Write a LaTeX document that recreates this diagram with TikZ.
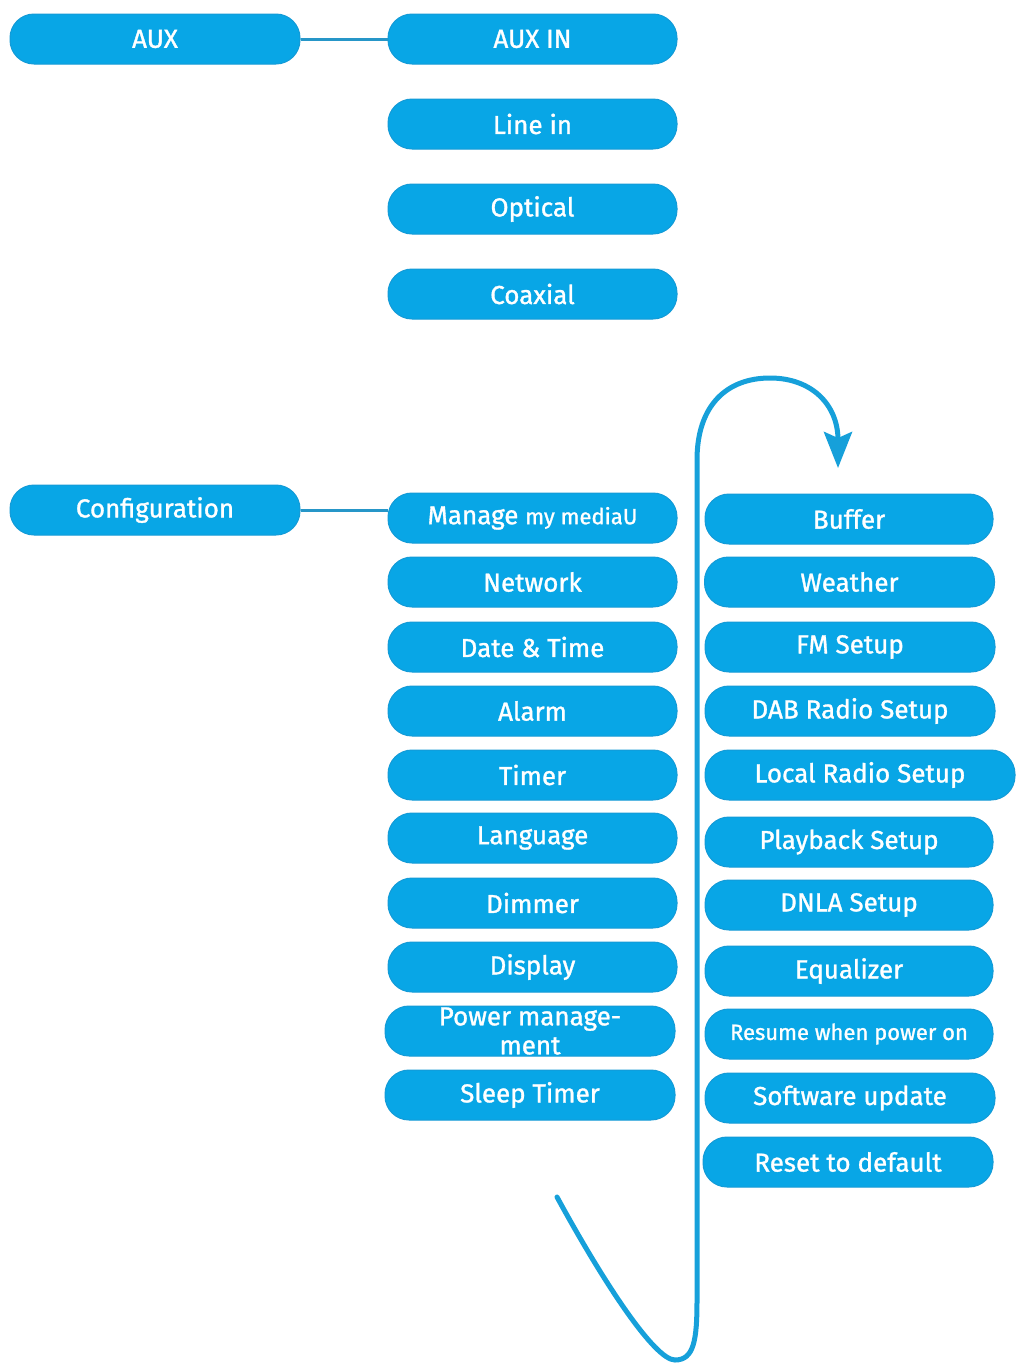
\documentclass[tikz,border=0pt]{standalone}
\usepackage{fontspec}
\setmainfont{Fira Sans}[FakeBold=1.2]
\usetikzlibrary{arrows.meta}
\definecolor{boxblue}{RGB}{8,166,230}
\definecolor{boxedge}{RGB}{20,155,215}
\definecolor{linkblue}{RGB}{38,150,200}
\definecolor{loopblue}{RGB}{22,160,218}
\begin{document}
\begin{tikzpicture}[x=1pt,y=-1pt,
  box/.style={rectangle, rounded corners=24pt, fill=boxblue, draw=boxedge, line width=1pt,
    minimum height=50pt, minimum width=289pt, text=white, inner sep=0pt,
    font=\fontsize{26}{30}\selectfont},
  small/.style={font=\fontsize{22}{26}\selectfont},
  boxtxt/.style={text=white, inner sep=0pt, align=center, font=\fontsize{26}{29}\selectfont},
  link/.style={draw=linkblue, line width=3pt},
  loop/.style={draw=loopblue, line width=5pt, line cap=round}]
\fill[white] (0,0) rectangle (1021,1368);
\useasboundingbox (0,0) rectangle (1021,1368);

% AUX part
\node[box, minimum width=290pt] (aux) at (155,39) {AUX};
\node[box] (auxin) at (532.5,39) {AUX IN};
\node[box] (linein) at (532.5,124) {Line in};
\node[box] (optical) at (532.5,209) {Optical};
\node[box] (coaxial) at (532.5,294) {Coaxial};
\draw[link] (aux.east) -- (auxin.west);

% Configuration part
\node[box, minimum width=290pt] (config) at (155,510) {Configuration};
\node[box] (manage) at (532.5,518) {Manage {\fontsize{22}{26}\selectfont my mediaU}};
\node[box] (network) at (532.5,582) {Network};
\node[box] (datetime) at (532.5,647) {Date \& Time};
\node[box] (alarm) at (532.5,711) {Alarm};
\node[box] (timer) at (532.5,775) {Timer};
\node[box] (language) at (532.5,838) {Language};
\node[box] (dimmer) at (532.5,903) {Dimmer};
\node[box] (display) at (532.5,967) {Display};
\node[box, minimum width=290pt] (power) at (530,1031) {};
\node[boxtxt] (powertxt) at (530,1031) {Power manage-\\ment};
\node[box, minimum width=290pt] (sleep) at (530,1095) {Sleep Timer};
\draw[link] (config.east) -- (manage.west |- config.east);

% right column
\node[box, minimum width=288pt] (buffer) at (849,519) {Buffer};
\node[box, minimum width=290pt] (weather) at (849.5,582) {Weather};
\node[box, minimum width=290pt] (fm) at (850,647) {FM Setup};
\node[box, minimum width=290pt] (dab) at (850,711) {DAB Radio Setup};
\node[box, minimum width=310pt] (local) at (860,775) {Local Radio Setup};
\node[box, minimum width=288pt] (playback) at (849,842) {Playback Setup};
\node[box, minimum width=288pt] (dnla) at (849,905) {DNLA Setup};
\node[box, minimum width=288pt] (equalizer) at (849,971) {Equalizer};
\node[box, minimum width=288pt, small] (resume) at (849,1034) {Resume when power on};
\node[box, minimum width=290pt] (software) at (850,1098) {Software update};
\node[box, minimum width=290pt] (reset) at (848,1162) {Reset to default};

% loop arrow
\coordinate (loopstart) at (557,1197);
\coordinate (looptip) at (838,468);
\draw[loop, -{Stealth[length=36pt,width=28pt,inset=6pt]}] (loopstart)
  .. controls (605,1285) and (655,1360) .. (675,1360)
  .. controls (694,1360) and (697,1340) .. (697,1300)
  -- (697,460)
  .. controls (697,405) and (727,378) .. (770,378)
  .. controls (812,378) and (838,405) .. (838,440)
  -- (looptip);
\end{tikzpicture}
\end{document}
